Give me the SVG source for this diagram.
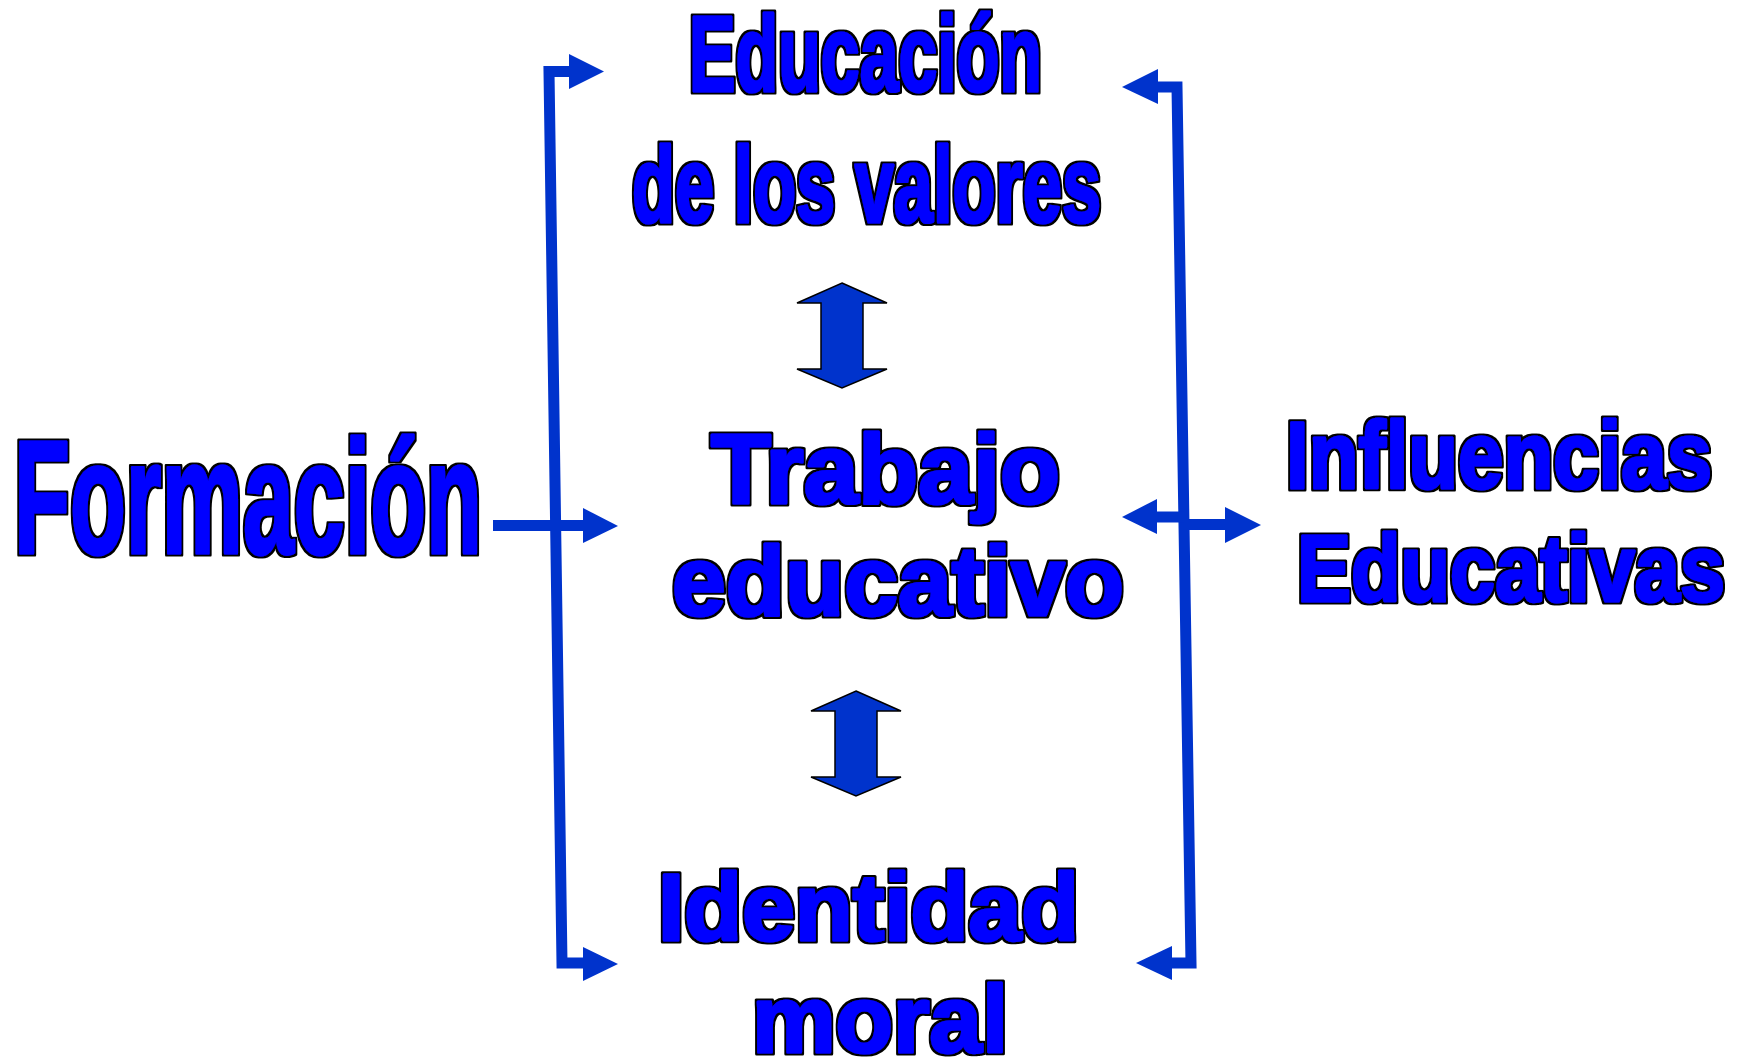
<svg xmlns="http://www.w3.org/2000/svg" width="1737" height="1058" viewBox="0 0 1737 1058">
  <style>
    text { font-family: "Liberation Sans", Arial, sans-serif; font-weight: bold; fill: #0000FF; stroke: #0000FF; stroke-width: 3; stroke-linejoin: round; filter: url(#outline); }
    .ln { fill: none; stroke: #0033CC; stroke-width: 11; stroke-linejoin: miter; }
    .hd { fill: #0033CC; stroke: none; }
    .dbl { fill: #0033CC; stroke: #000000; stroke-width: 1.5; stroke-linejoin: miter; }
  </style>
  <defs>
    <filter id="outline" x="-5%" y="-10%" width="110%" height="120%">
      <feMorphology in="SourceAlpha" operator="dilate" radius="2" result="d"/>
      <feFlood flood-color="#000000"/>
      <feComposite in2="d" operator="in" result="b"/>
      <feMerge>
        <feMergeNode in="b"/>
        <feMergeNode in="SourceGraphic"/>
      </feMerge>
    </filter>
  </defs>
  <rect width="1737" height="1058" fill="#FFFFFF"/>

  <g id="connectors">
    <!-- left bracket -->
    <path class="ln" d="M 572,71.5 H 549 L 562,963 H 586"/>
    <polygon class="hd" points="569,54 604,71.5 569,89"/>
    <polygon class="hd" points="583,947 618,964 583,981"/>
    <path class="ln" d="M 493,525.5 H 586"/>
    <polygon class="hd" points="583,508 618,526 583,543"/>
    <!-- right bracket -->
    <path class="ln" d="M 1155,87 H 1177 L 1191,963 H 1169"/>
    <polygon class="hd" points="1158,69 1122,87 1158,104"/>
    <polygon class="hd" points="1172,946 1136,963 1172,980"/>
    <path class="ln" d="M 1184,517 H 1154"/>
    <polygon class="hd" points="1157,499 1122,517 1157,534"/>
    <path class="ln" d="M 1184,524.5 H 1228"/>
    <polygon class="hd" points="1225,507 1261,525 1225,543"/>
    <!-- double arrows -->
    <polygon class="dbl" points="842,283 887,303 863,303 863,369 887,369 842,388 797,369 821,369 821,303 797,303"/>
    <polygon class="dbl" points="856,691 901,711 877,711 877,777 901,777 856,796 811,777 835,777 835,711 811,711"/>
  </g>

  <g id="node-educacion">
    <text x="689" y="91" font-size="108" textLength="353" lengthAdjust="spacingAndGlyphs">Educación</text>
    <text x="632" y="222" font-size="108" textLength="469" lengthAdjust="spacingAndGlyphs">de los valores</text>
  </g>

  <g id="node-formacion">
    <text x="14" y="553" font-size="161" textLength="468" lengthAdjust="spacingAndGlyphs">Formación</text>
  </g>

  <g id="node-trabajo">
    <text x="711" y="503" font-size="99" textLength="349" lengthAdjust="spacingAndGlyphs">Trabajo</text>
    <text x="672" y="615" font-size="99" textLength="452" lengthAdjust="spacingAndGlyphs">educativo</text>
  </g>

  <g id="node-influencias">
    <text x="1286" y="488" font-size="94" textLength="426" lengthAdjust="spacingAndGlyphs">Influencias</text>
    <text x="1297" y="601" font-size="94" textLength="428" lengthAdjust="spacingAndGlyphs">Educativas</text>
  </g>

  <g id="node-identidad">
    <text x="658" y="940" font-size="95" textLength="421" lengthAdjust="spacingAndGlyphs">Identidad</text>
    <text x="752" y="1052" font-size="95" textLength="256" lengthAdjust="spacingAndGlyphs">moral</text>
  </g>
</svg>
